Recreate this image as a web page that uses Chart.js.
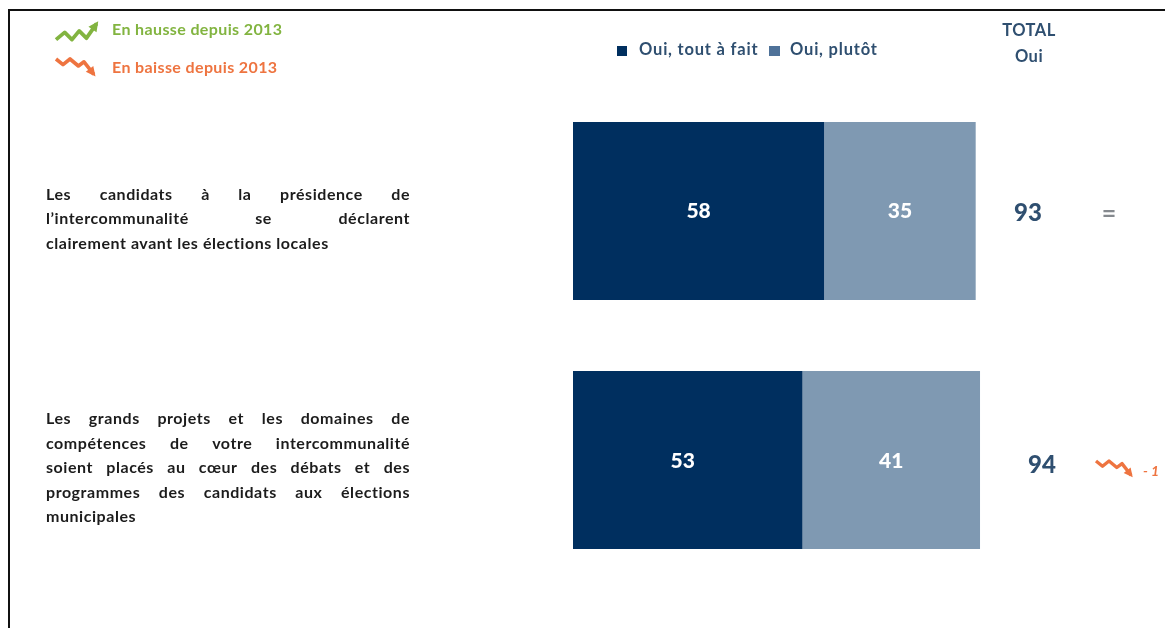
<!DOCTYPE html>
<html lang="fr"><head><meta charset="utf-8">
<style>html,body{margin:0;padding:0;background:#fff}#w{position:relative;width:1165px;height:628px;overflow:hidden}canvas{display:block;filter:blur(.45px)}</style>
<script src="https://cdn.jsdelivr.net/npm/chart.js@4"></script></head>
<body><div id="w"><canvas id="c" width="1165" height="628"></canvas></div>
<script>
const categories = [
  ["Les candidats à la présidence de","l’intercommunalité se déclarent","clairement avant les élections locales"],
  ["Les grands projets et les domaines de","compétences de votre intercommunalité","soient placés au cœur des débats et des","programmes des candidats aux élections","municipales"]
];
const seriesNames = ["Oui, tout à fait","Oui, plutôt"];
const toutAFait = [58,53];
const plutot = [35,41];
const totals = [93,94];
const evolution = ["=","-1"];
const legendUp = "En hausse depuis 2013";
const legendDown = "En baisse depuis 2013";
const totalHeader = ["TOTAL","Oui"];

const totalPos = [[1028,2],[1042,5]];
const NAVY="#002f5f", STEEL="#7f99b2", SWATCH2="#4f7299", GREEN="#82b440", ORANGE="#ee7440", TXT="#2f4f70";
const FONT='Lato';

function zig(ctx,x,y,up,s,color){
  const pts = up ? [[0,8],[6,3],[11,8],[16,2],[21,7],[28,-3]] : [[0,0],[5,4],[10,0],[16,5],[20,2],[27,11]];
  ctx.save();ctx.strokeStyle=color;ctx.fillStyle=color;ctx.lineWidth=2.6*s;ctx.lineJoin="round";
  ctx.beginPath();pts.forEach((p,i)=>{const X=x+p[0]*s,Y=y+p[1]*s;i?ctx.lineTo(X,Y):ctx.moveTo(X,Y)});ctx.stroke();
  const a=pts[pts.length-1],b=pts[pts.length-2],ang=Math.atan2(a[1]-b[1],a[0]-b[0]);
  const X=x+a[0]*s,Y=y+a[1]*s,L=6*s;
  ctx.beginPath();ctx.moveTo(X+Math.cos(ang)*2*s,Y+Math.sin(ang)*2*s);
  ctx.lineTo(X-Math.cos(ang-.6)*L,Y-Math.sin(ang-.6)*L);ctx.lineTo(X-Math.cos(ang+.6)*L,Y-Math.sin(ang+.6)*L);ctx.closePath();ctx.fill();
  ctx.restore();
}
function text(ctx,s,x,y,font,color,align,spacing){ctx.font=font;ctx.letterSpacing=spacing||"0px";ctx.fillStyle=color;ctx.textAlign=align||"left";ctx.textBaseline="middle";ctx.fillText(s,x,y);ctx.letterSpacing="0px";}

const overlay={id:"overlay",afterDatasetsDraw(chart){
  const ctx=chart.ctx,ys=chart.scales.y;
  ctx.save();
  ctx.fillStyle="#111";ctx.fillRect(8,9,1157,2);ctx.fillRect(8,9,2,619);
  chart.data.datasets.forEach((d,di)=>{
    chart.getDatasetMeta(di).data.forEach((bar,i)=>{
      const p=bar.getProps(["x","base","y"],true);
      const nudge=(di===0&&i===1)?-5:0;
      text(ctx,String(d.data[i]),(p.x+p.base)/2+nudge,p.y+i,'900 21px '+FONT,"#fff","center");
    });
  });
  const lf='bold 16px '+FONT, ls="0.55px";
  categories.forEach((lines,i)=>{
    const cy=ys.getPixelForValue(i);
    text(ctx,String(totals[i]),totalPos[i][0],cy+totalPos[i][1],'900 24px '+FONT,TXT,"center");
    const LH=24.5,x0=46,W=364;
    lines.forEach((ln,k)=>{
      const y=cy+(k-(lines.length-1)/2)*LH+8;
      ctx.font=lf;ctx.letterSpacing=ls;
      const gaps=ln.split(" ").length-1;
      const nat=ctx.measureText(ln).width;
      ctx.wordSpacing=(k<lines.length-1&&gaps)?((W-nat)/gaps)+"px":"0px";
      text(ctx,ln,x0,y,lf,"#1c1c1c","left",ls);
      ctx.wordSpacing="0px";
    });
  });
  text(ctx,evolution[0],1109,ys.getPixelForValue(0)+3,'bold 25px '+FONT,"#85898e","center");
  zig(ctx,1096,ys.getPixelForValue(1)+1,false,1.3,ORANGE);
  text(ctx,"- 1",1143,ys.getPixelForValue(1)+11,'italic bold 14px '+FONT,ORANGE);
  zig(ctx,56,28,true,1.45,GREEN);
  text(ctx,legendUp,112,30,'bold 16px '+FONT,GREEN,"left","0.38px");
  zig(ctx,56,59,false,1.4,ORANGE);
  text(ctx,legendDown,112,68,'bold 16px '+FONT,ORANGE,"left","0.38px");
  const ly=50,f='bold 16.5px '+FONT;
  ctx.fillStyle=NAVY;ctx.fillRect(617,46,10,10);
  text(ctx,seriesNames[0],639,ly,f,TXT,"left","0.8px");
  ctx.fillStyle=SWATCH2;ctx.fillRect(769,46,11,10);
  text(ctx,seriesNames[1],790,ly,f,TXT,"left","0.8px");
  text(ctx,totalHeader[0],1029,31,f,TXT,"center","0.5px");
  text(ctx,totalHeader[1],1029,57,f,TXT,"center","0.5px");
  ctx.restore();
}};

new Chart(document.getElementById("c"),{
  type:"bar",
  data:{labels:categories,datasets:[
    {label:seriesNames[0],data:toutAFait,backgroundColor:NAVY,borderWidth:0},
    {label:seriesNames[1],data:plutot,backgroundColor:STEEL,borderWidth:0}
  ]},
  options:{
    indexAxis:"y",responsive:false,animation:false,
    layout:{padding:{left:573,top:86.5,right:159,bottom:43.5}},
    datasets:{bar:{categoryPercentage:1,barPercentage:0.715}},
    scales:{
      x:{stacked:true,min:0,max:100,display:false},
      y:{stacked:true,display:false}
    },
    plugins:{legend:{display:false},tooltip:{enabled:false},title:{display:false}}
  },
  plugins:[overlay]
});
</script></body></html>
